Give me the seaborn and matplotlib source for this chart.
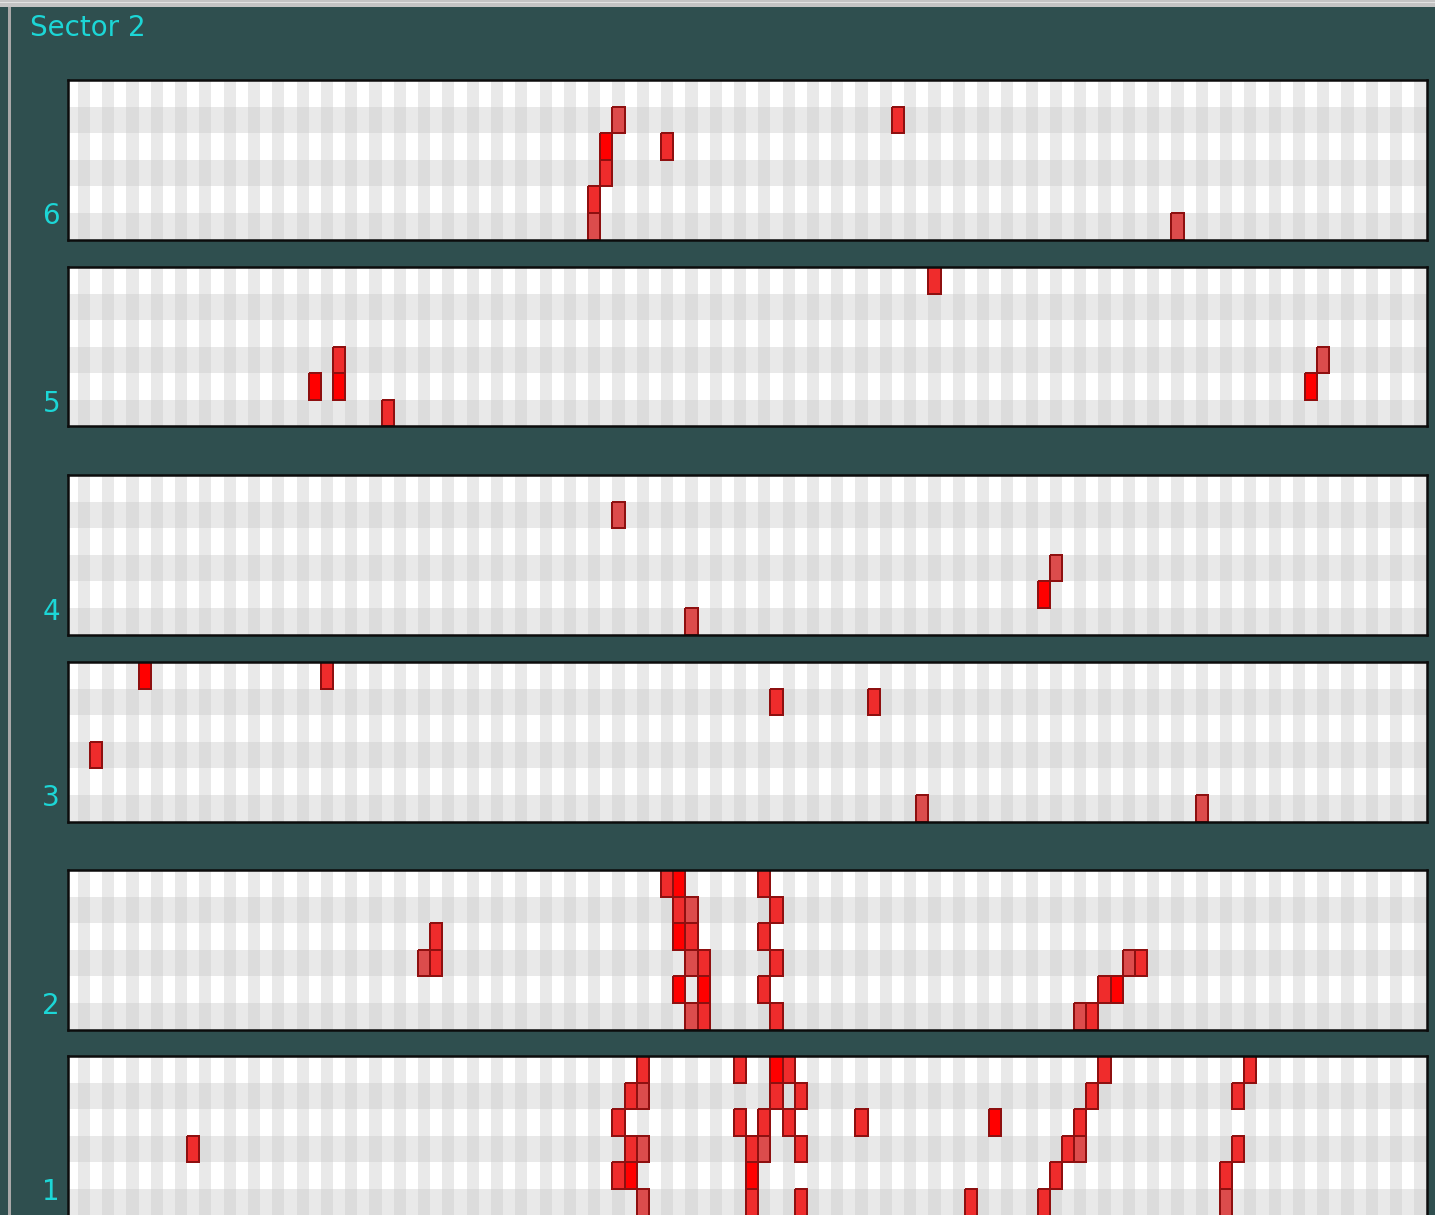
import numpy as np
import matplotlib
matplotlib.use("Agg")
import matplotlib.pyplot as plt
from matplotlib.colors import ListedColormap, to_rgba
from matplotlib.patches import Rectangle
import seaborn as sns

sns.set_style("white")

# ---- display content -------------------------------------------------------
sector_title = "Sector 2"
layer_labels = ["6", "5", "4", "3", "2", "1"]
n_cols = 112          # readout channels per layer
n_rows = 6            # planes per layer

# Hits per layer: channel (column), plane (0 = bottom), amplitude class
# (1 = weak, 2 = normal, 3 = strong)
layer6_col = [45, 44, 44, 43, 43, 49, 68, 91]
layer6_row = [4, 3, 2, 1, 0, 3, 4, 0]
layer6_amp = [1, 3, 2, 2, 1, 2, 2, 1]

layer5_col = [71, 22, 22, 20, 26, 103, 102]
layer5_row = [5, 2, 1, 1, 0, 2, 1]
layer5_amp = [2, 2, 3, 3, 2, 1, 3]

layer4_col = [45, 81, 80, 51]
layer4_row = [4, 2, 1, 0]
layer4_amp = [1, 1, 3, 1]

layer3_col = [6, 21, 58, 66, 2, 70, 93]
layer3_row = [5, 5, 4, 4, 2, 0, 0]
layer3_amp = [3, 2, 2, 2, 2, 1, 1]

layer2_col = [49, 50, 57, 50, 51, 58, 50, 51, 57, 30, 51, 52, 58, 29, 30, 87, 88,
              50, 52, 57, 85, 86, 51, 52, 58, 83, 84]
layer2_row = [5, 5, 5, 4, 4, 4, 3, 3, 3, 3, 2, 2, 2, 2, 2, 2, 2,
              1, 1, 1, 1, 1, 0, 0, 0, 0, 0]
layer2_amp = [2, 3, 2, 2, 1, 2, 3, 2, 2, 2, 1, 2, 2, 1, 2, 1, 2,
              3, 3, 2, 2, 3, 1, 2, 2, 1, 2]

layer1_col = [47, 55, 58, 59, 85, 97,
              46, 47, 58, 60, 84, 96,
              45, 55, 57, 59, 65, 76, 83,
              10, 46, 47, 56, 57, 60, 82, 83, 96,
              45, 46, 56, 81, 95,
              47, 56, 60, 74, 80, 95]
layer1_row = [5] * 6 + [4] * 6 + [3] * 7 + [2] * 9 + [1] * 5 + [0] * 6
layer1_amp = [2, 2, 3, 2, 2, 2,
              2, 1, 2, 2, 2, 2,
              2, 2, 2, 2, 2, 3, 2,
              2, 2, 1, 2, 1, 2, 2, 1, 2,
              2, 3, 3, 2, 2,
              1, 2, 2, 2, 2, 1]

layers = [
    (layer6_col, layer6_row, layer6_amp),
    (layer5_col, layer5_row, layer5_amp),
    (layer4_col, layer4_row, layer4_amp),
    (layer3_col, layer3_row, layer3_amp),
    (layer2_col, layer2_row, layer2_amp),
    (layer1_col, layer1_row, layer1_amp),
]

# ---- styling ---------------------------------------------------------------
W, H = 1435, 1215
bg_color = "#2f4f4f"
text_color = "#1cd6d6"
grid_cmap = ListedColormap(["#ffffff", "#e9e9e9", "#dcdcdc"])
hit_cmap = ListedColormap(["#dc4c4c", "#ef2c2c", "#ff0000"])
hit_edge = to_rgba("#8e1010")

panel_left, panel_width = 68, 1359
panel_tops = [80, 267, 475, 662, 870, 1056]
panel_height = 159.5

fig = plt.figure(figsize=(W / 100, H / 100), dpi=100, facecolor=bg_color)

# window frame: light strip on top, thin vertical divider on the left
fig.patches.append(Rectangle((0, 1 - 7 / H), 1, 7 / H, transform=fig.transFigure,
                             facecolor="#c4c4c4", edgecolor="none", zorder=0))
fig.patches.append(Rectangle((0, 1 - 3 / H), 1, 1.5 / H, transform=fig.transFigure,
                             facecolor="#e2e2e2", edgecolor="none", zorder=0))
fig.patches.append(Rectangle((8 / W, 0), 3 / W, 1 - 7 / H, transform=fig.transFigure,
                             facecolor="#a9a9a9", edgecolor="none", zorder=0))

# checkerboard of planes / channels
row_from_bottom = np.arange(n_rows)[::-1][:, None]
col_idx = np.arange(n_cols)[None, :]
grid = (row_from_bottom % 2 == 0).astype(int) + (col_idx % 2 == 1).astype(int)

for label, top, (cols, rows, amps) in zip(layer_labels, panel_tops, layers):
    bottom = top + panel_height
    ax = fig.add_axes([panel_left / W, 1 - bottom / H,
                       panel_width / W, panel_height / H])

    sns.heatmap(grid, cmap=grid_cmap, vmin=-0.5, vmax=2.5, cbar=False,
                xticklabels=False, yticklabels=False, ax=ax)

    hits = np.zeros((n_rows, n_cols))
    for c, r, a in zip(cols, rows, amps):
        hits[n_rows - 1 - r, c] = a
    sns.heatmap(hits, mask=hits == 0, cmap=hit_cmap, vmin=0.5, vmax=3.5,
                cbar=False, linewidths=1.3, linecolor="#8e1010",
                xticklabels=False, yticklabels=False, ax=ax)

    # outline only the cells that carry a hit
    mesh = ax.collections[-1]
    edges = np.zeros((n_rows * n_cols, 4))
    edges[(hits != 0).ravel()] = hit_edge
    mesh.set_edgecolor(edges)

    ax.set_xlim(0.19, 112.04)
    ax.set_ylim(n_rows, 0)
    for s in ax.spines.values():
        s.set_visible(True)
        s.set_color("#0c0c0c")
        s.set_linewidth(1.8)

    fig.text(60 / W, 1 - (bottom - 15) / H, label, ha="right", va="baseline",
             color=text_color, fontsize=20, family="DejaVu Sans")

fig.text(30 / W, 1 - 36 / H, sector_title, ha="left", va="baseline",
         color=text_color, fontsize=20, family="DejaVu Sans")

fig.savefig("out.png", dpi=100, facecolor=bg_color)
